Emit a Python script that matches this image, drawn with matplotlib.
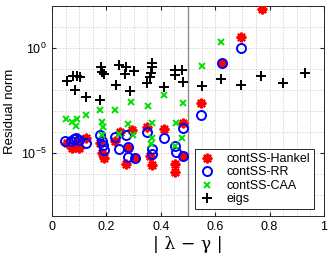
import matplotlib
matplotlib.use("Agg")
import matplotlib.pyplot as plt
from matplotlib.ticker import FixedLocator, NullFormatter
import numpy as np

plt.rcParams['font.family'] = ['Liberation Sans', 'DejaVu Sans']
plt.rcParams['mathtext.fontset'] = 'stix'

# |lambda - gamma| and log10(residual norm)
hankel_x = [0.054, 0.072, 0.085, 0.100, 0.092, 0.127, 0.176, 0.183, 0.190, 0.232, 0.250,
            0.274, 0.278, 0.293, 0.305, 0.350, 0.360, 0.366, 0.413, 0.452, 0.452, 0.480,
            0.483, 0.548, 0.624, 0.695, 0.771]
hankel_log = [-4.50, -4.74, -4.70, -4.74, -4.45, -4.30, -4.50, -4.98, -5.25, -4.42, -4.00,
              -5.54, -4.74, -3.92, -5.22, -3.75, -5.14, -5.59, -3.84, -5.54, -5.92, -5.14,
              -3.56, -2.61, -0.74, 0.54, 1.86]

rr_x = [0.048, 0.070, 0.080, 0.090, 0.100, 0.125, 0.176, 0.183, 0.188, 0.190, 0.232, 0.246,
        0.274, 0.278, 0.278, 0.305, 0.348, 0.367, 0.367, 0.413, 0.452, 0.455, 0.480, 0.482,
        0.548, 0.624, 0.695]
rr_log = [-4.45, -4.42, -4.34, -4.30, -4.40, -4.50, -4.15, -4.42, -4.60, -4.85, -4.25, -4.80,
          -4.13, -4.72, -5.20, -5.26, -3.98, -4.80, -5.06, -4.30, -4.65, -4.95, -5.14, -3.80,
          -3.17, -0.74, 0.00]

caa_x = [0.052, 0.072, 0.091, 0.088, 0.127, 0.176, 0.185, 0.187, 0.183, 0.232, 0.247, 0.278,
         0.290, 0.297, 0.352, 0.367, 0.369, 0.364, 0.413, 0.455, 0.452, 0.480, 0.478, 0.550,
         0.620]
caa_log = [-3.38, -3.54, -3.38, -3.72, -3.19, -2.95, -3.54, -3.75, -4.15, -2.95, -4.08, -3.62,
           -2.55, -4.12, -2.74, -3.55, -4.30, -4.55, -2.26, -3.57, -4.66, -2.63, -4.30, -0.87,
           0.30]

eigs_x = [0.054, 0.076, 0.092, 0.103, 0.085, 0.127, 0.176, 0.180, 0.184, 0.190, 0.235, 0.245,
          0.272, 0.268, 0.300, 0.286, 0.348, 0.369, 0.367, 0.364, 0.360, 0.413, 0.452, 0.477,
          0.454, 0.482, 0.550, 0.620, 0.695, 0.770, 0.850, 0.930]
eigs_log = [-1.56, -1.35, -1.35, -1.40, -2.02, -2.34, -2.50, -0.90, -1.14, -1.25, -1.78, -0.82,
            -0.93, -1.22, -1.09, -2.04, -1.68, -0.71, -0.93, -1.19, -1.38, -1.86, -1.06, -1.06,
            -1.30, -1.62, -1.83, -1.46, -1.78, -1.35, -1.67, -1.19]

fig = plt.figure(figsize=(3.33, 2.56), dpi=100)
ax = fig.add_axes([0.156, 0.156, 0.817, 0.821])

ax.axvline(0.5, color='#8c8c8c', lw=1.0, zorder=1)

# matlab-like asterisk: 4 crossing strokes
ax.plot(hankel_x, 10.0 ** np.array(hankel_log), marker=(8, 2, 0), color='red', ms=7, mew=1.6,
        ls='none', label='contSS-Hankel', zorder=3)
ax.plot(rr_x, 10.0 ** np.array(rr_log), 'o', mfc='none', mec='blue', ms=6.5, mew=1.4,
        ls='none', label='contSS-RR', zorder=4)
ax.plot(caa_x, 10.0 ** np.array(caa_log), 'x', color='#00e000', ms=5, mew=1.4,
        ls='none', label='contSS-CAA', zorder=5)
ax.plot(eigs_x, 10.0 ** np.array(eigs_log), '+', color='black', ms=7, mew=1.4,
        ls='none', label='eigs', zorder=6)

ax.set_yscale('log')
ax.set_xlim(0, 1)
ax.set_ylim(1e-8, 1e2)
ax.set_xticks([0, 0.2, 0.4, 0.6, 0.8, 1])
ax.set_xticklabels(['0', '0.2', '0.4', '0.6', '0.8', '1'])
ax.xaxis.set_minor_locator(FixedLocator(np.arange(0, 1.0001, 0.05)))
ax.set_yticks([1e-5, 1e0])
ax.yaxis.set_minor_locator(FixedLocator([10.0 ** k for k in range(-8, 3)]))
ax.yaxis.set_minor_formatter(NullFormatter())
ax.tick_params(which='both', direction='in', top=True, right=True, labelsize=9,
               color='#262626', length=0)
ax.tick_params(which='major', length=3)
ax.grid(which='both', ls=':', color='#c8c8c8', lw=0.7)
ax.set_axisbelow(True)
for s in ax.spines.values():
    s.set_color('#262626')
    s.set_linewidth(0.7)

ax.set_ylabel('Residual norm', fontsize=9.5)
ax.set_xlabel('| λ − γ |', fontsize=12.5, labelpad=2,
              family=['DejaVu Serif', 'DejaVu Sans'])

leg = ax.legend(loc='lower right', fontsize=9, handlelength=1.3, handletextpad=0.9,
                borderpad=0.3, labelspacing=0.12, fancybox=False, framealpha=1,
                edgecolor='#262626', borderaxespad=0, bbox_to_anchor=(0.963, 0.033))
leg.get_frame().set_linewidth(0.7)

fig.savefig('out.png', dpi=100)
